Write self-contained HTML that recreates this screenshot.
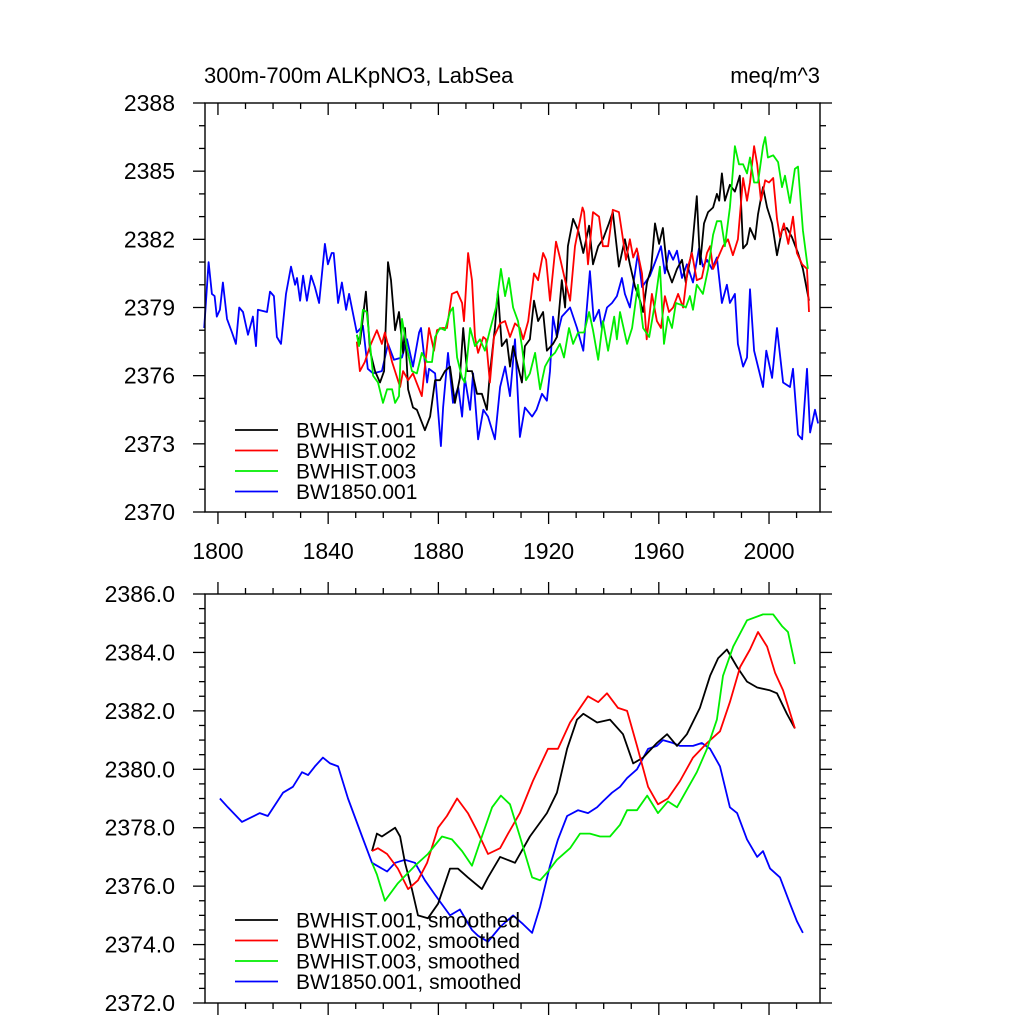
<!DOCTYPE html>
<html><head><meta charset="utf-8"><style>
html,body{margin:0;padding:0;background:#fff;}
svg{display:block;font-family:"Liberation Sans",sans-serif;}
</style></head><body>
<svg id="chart" width="1024" height="1024" viewBox="0 0 1024 1024" xmlns="http://www.w3.org/2000/svg">
<text x="204" y="83" font-size="22">300m-700m ALKpNO3, LabSea</text>
<text x="820" y="83" font-size="22" text-anchor="end">meq/m^3</text>
</svg>
<script>
// ---- top panel (annual) data ----
const blueYears=[1795,1796.6,1797.8,1798.8,1799.6,1800.7,1801.8,1803.3,1805.1,1806.5,1807.7,1809.1,1810.9,1812.7,1813.8,1814.5,1817.8,1818.9,1820.3,1821.4,1822.9,1824.7,1826.5,1828,1828.7,1829.8,1830.9,1832.3,1833.8,1835.2,1836.7,1838.8,1839.9,1841.3,1842,1843.6,1845,1846.5,1847.6,1850.4,1852.6,1854.4,1856.3,1859.5,1861.7,1863.9,1866.8,1868.6,1870.8,1873,1873.7,1875.9,1876.6,1878.8,1880.9,1881.7,1883.5,1885.3,1887.2,1888.6,1889.6,1891.5,1892.6,1894.4,1896.3,1898,1900.5,1902.4,1904.2,1906,1907.8,1909.6,1911.4,1914,1915.6,1917.6,1919.4,1920.5,1921.6,1923,1924.8,1927.8,1930.3,1932.6,1935,1936.4,1938.3,1939.3,1941.2,1943,1944.8,1946.6,1947.7,1949.5,1952.4,1953.9,1956.8,1959.3,1960.8,1962.2,1963.7,1965.2,1966.6,1968.4,1970.2,1972.4,1974.6,1976,1977.5,1979.3,1981.1,1982.9,1984.7,1985.8,1987.6,1988.7,1990.6,1992,1993.1,1994.6,1996,1997.8,1999,2001.1,2002.9,2005.1,2007.6,2008.7,2010.5,2012,2013.8,2014.9,2016.7,2017.8];
const blueVals=[2378.1,2381.0,2379.6,2379.5,2378.6,2378.9,2380.1,2378.5,2377.9,2377.4,2379.0,2378.8,2377.8,2378.6,2377.3,2378.9,2378.8,2379.7,2379.5,2377.7,2377.4,2379.6,2380.8,2380.0,2380.3,2379.3,2380.4,2379.3,2380.4,2379.9,2379.2,2381.8,2380.9,2381.4,2381.4,2379.2,2380.1,2378.9,2379.6,2377.9,2378.2,2376.3,2376.1,2376.2,2377.4,2376.7,2376.8,2377.6,2376.4,2377.9,2378.1,2375.7,2376.3,2376.1,2372.9,2374.6,2377.0,2374.8,2375.5,2374.2,2375.9,2374.5,2376.1,2373.2,2374.5,2374.2,2373.2,2375.5,2376.4,2375.1,2377.6,2373.3,2374.6,2374.2,2374.5,2375.2,2374.9,2376.2,2378.6,2377.7,2378.6,2379.0,2378.1,2377.1,2380.6,2378.4,2378.9,2378.1,2379.0,2379.2,2379.5,2380.3,2379.6,2379.0,2381.4,2379.9,2380.4,2381.2,2381.7,2380.5,2381.5,2381.1,2381.5,2380.3,2380.9,2380.1,2381.6,2380.8,2381.1,2380.7,2381.2,2379.2,2380.0,2379.2,2379.6,2377.4,2376.4,2376.8,2379.8,2377.1,2376.4,2375.5,2377.1,2375.9,2378.1,2375.7,2375.5,2376.3,2373.4,2373.2,2376.3,2373.5,2374.5,2373.9];
const blackYears=[1850.4,1851.5,1853.7,1855.2,1857,1858.8,1860.3,1861.7,1862.8,1864.3,1865.7,1867.2,1867.9,1869,1870.8,1872.2,1875.1,1877,1878.8,1880.6,1882.4,1884.2,1886,1887.8,1889,1890.4,1892.2,1894,1895.8,1897.6,1898.7,1900.5,1901.6,1903,1904.8,1906,1907.1,1908.9,1910.3,1911.4,1913.2,1914.7,1916.2,1918,1919.4,1921.6,1923,1924.8,1926,1927,1928.9,1930.7,1932.6,1934.7,1936.1,1938,1939.7,1941.9,1943.3,1945.5,1947.7,1949.5,1951.4,1953.2,1954.3,1955.7,1957.2,1958.6,1960.1,1961.5,1963,1964.8,1966.6,1968.4,1969.8,1972,1973.8,1975,1976.4,1977.9,1979.7,1981.1,1981.9,1982.9,1984,1985.8,1987.6,1989.4,1990.6,1992,1993.1,1994.9,1996,1997.8,1999.3,2001.1,2002.9,2004.7,2006.5,2008.3,2010.5,2012.3,2014.5];
const blackVals=[2377.8,2377.4,2379.7,2377.1,2376.2,2375.7,2376.2,2381.0,2380.2,2378.0,2378.8,2377.0,2378.1,2375.4,2374.6,2374.5,2373.6,2374.2,2375.8,2375.8,2376.2,2376.4,2374.8,2375.9,2378.1,2376.2,2376.2,2375.2,2375.2,2374.5,2376.1,2378.1,2379.7,2377.3,2377.6,2376.4,2377.3,2376.4,2375.7,2377.3,2377.6,2379.3,2378.4,2378.8,2377.1,2377.4,2377.7,2380.2,2379.0,2381.7,2382.9,2382.4,2381.4,2382.6,2380.9,2381.7,2382.0,2382.7,2383.2,2380.8,2382.0,2380.9,2379.9,2379.3,2378.8,2380.1,2380.7,2382.7,2381.8,2382.5,2380.7,2380.1,2380.7,2381.1,2380.1,2381.5,2383.9,2380.9,2382.7,2383.2,2383.4,2384.0,2383.7,2384.9,2383.7,2384.4,2384.1,2384.8,2381.6,2381.8,2382.5,2382.0,2383.1,2384.3,2383.4,2382.7,2381.3,2382.4,2382.5,2382.1,2381.4,2380.7,2379.3];
const redYears=[1850.4,1851.5,1853.3,1855.2,1857.7,1859.5,1860.6,1863.2,1866.1,1867.2,1869,1870.8,1872.4,1874,1875.1,1876.6,1878.4,1879.5,1881.3,1883.1,1884.9,1886.8,1888.6,1889.3,1890.8,1892.2,1893.3,1894.4,1896.3,1897.3,1898.7,1900.2,1902.4,1904.2,1906,1907.8,1909.6,1910.8,1912.6,1914.7,1916.2,1918,1919.1,1920.5,1922.7,1924.1,1926,1927.8,1929.6,1930.7,1932.3,1932.9,1934.3,1936.1,1938.3,1939.7,1941.6,1943.3,1945.5,1947,1948.1,1949.5,1950.7,1952,1953.9,1955.6,1957.5,1959.3,1960.8,1962.2,1963.7,1965.2,1967,1968.8,1970.6,1972,1973.8,1975.6,1977.5,1978.6,1979.7,1981.5,1983.3,1985.1,1986.9,1988.7,1990.6,1992,1993.1,1994.6,1995.7,1997.1,1998.6,2000,2001.5,2002.9,2004,2005.4,2007,2008.7,2010.1,2012,2013.8,2014.5];
const redVals=[2377.5,2376.2,2376.6,2377.3,2378.0,2377.4,2377.9,2376.6,2375.5,2376.2,2375.8,2376.1,2375.6,2375.1,2376.4,2378.1,2377.1,2378.0,2378.1,2378.1,2379.6,2379.7,2379.2,2378.4,2381.4,2380.2,2377.7,2377.0,2377.7,2377.6,2375.7,2377.7,2378.3,2378.4,2377.7,2378.3,2378.1,2377.6,2378.4,2380.5,2380.2,2381.4,2381.1,2379.3,2381.9,2381.2,2380.2,2379.3,2381.7,2382.4,2383.4,2383.2,2380.9,2383.2,2383.0,2381.7,2381.7,2383.3,2383.2,2382.0,2381.1,2382.0,2381.2,2381.6,2380.5,2377.6,2379.6,2378.4,2378.1,2379.5,2378.8,2379.0,2379.6,2379.0,2380.8,2381.4,2380.2,2380.3,2381.4,2381.7,2380.7,2381.2,2381.7,2382.0,2381.3,2382.0,2384.7,2383.7,2384.5,2386.1,2385.3,2383.7,2384.6,2384.5,2384.7,2382.9,2382.1,2382.7,2381.8,2383.0,2381.4,2380.9,2380.7,2378.8];
const greenYears=[1850.4,1851.2,1852.6,1854,1855.2,1856.3,1858.1,1859.9,1861.4,1863.2,1864.3,1865.7,1866.8,1868.6,1870.4,1872.2,1874,1875.9,1877.7,1878.8,1880.6,1882.4,1884.2,1885.3,1886.8,1888.6,1889.6,1891.5,1893.3,1895.1,1896.9,1898.7,1900.9,1902.7,1904.2,1905.6,1907.1,1908.9,1910.3,1911.8,1913.2,1915.1,1916.9,1918.7,1920.5,1922.3,1924.1,1925.6,1927.4,1928.9,1930.7,1932.9,1934.7,1936.1,1938,1939.7,1941.6,1943.8,1944.8,1945.9,1948.5,1950.3,1952.4,1954.3,1956.5,1958.6,1960.4,1961.9,1963.3,1964.8,1966.2,1968.4,1969.8,1971.3,1972.4,1973.8,1976,1977.9,1979.7,1981.1,1982.6,1984,1985.8,1987.6,1989.1,1990.6,1992,1993.1,1994.6,1996,1997.8,1998.6,1999.6,2001.5,2003.3,2004.7,2005.8,2007.6,2009.4,2010.5,2012.3,2014.1];
const greenVals=[2377.8,2377.3,2378.9,2378.8,2377.4,2376.0,2375.7,2374.8,2375.4,2375.4,2374.8,2375.1,2378.5,2377.2,2376.2,2376.1,2377.0,2376.6,2376.6,2377.7,2378.1,2378.0,2378.8,2379.0,2376.8,2375.9,2375.7,2378.1,2377.3,2377.6,2377.1,2378.0,2379.0,2380.7,2379.5,2380.3,2379.0,2378.4,2377.3,2375.8,2376.1,2377.0,2375.4,2376.4,2376.8,2377.0,2377.4,2376.8,2378.1,2377.4,2377.9,2377.9,2378.8,2378.0,2376.7,2378.4,2377.1,2378.6,2377.6,2378.8,2377.4,2378.1,2380.0,2378.1,2377.7,2379.2,2380.8,2377.4,2378.6,2378.1,2379.2,2379.1,2379.0,2379.5,2378.9,2380.0,2379.6,2380.7,2382.2,2382.8,2382.8,2381.7,2383.4,2386.1,2385.3,2385.3,2384.9,2385.6,2384.5,2384.5,2386.1,2386.5,2385.6,2385.7,2385.4,2384.3,2384.8,2383.6,2385.1,2385.2,2382.4,2380.7];
// ---- bottom panel (smoothed) data ----
const sBlueYears=[1800.7,1803.6,1808.7,1810.9,1815.2,1818.1,1823.6,1827.2,1830.5,1832.7,1835.2,1838.1,1840.7,1843.6,1847.2,1852.3,1855.9,1861.4,1864.3,1867.9,1871.5,1875.1,1878.8,1884.2,1887.8,1892.2,1894.4,1898,1902.4,1907.1,1910.7,1914,1916.9,1920.5,1923.4,1926.7,1930.7,1934.3,1937.6,1939.7,1943,1945.9,1948.5,1952.1,1956.1,1959.3,1961.5,1965.2,1967.7,1972.4,1975.6,1978.6,1982.2,1985.8,1988.4,1992,1995.7,1997.8,2000.4,2004,2007.6,2010.1,2012.3];
const sBlueVals=[2379.0,2378.7,2378.2,2378.3,2378.5,2378.4,2379.2,2379.4,2379.9,2379.8,2380.1,2380.4,2380.2,2380.1,2379.0,2377.7,2376.8,2376.5,2376.8,2376.9,2376.8,2376.2,2375.7,2375.0,2375.2,2374.5,2374.3,2374.1,2374.6,2375.0,2374.7,2374.4,2375.3,2376.7,2377.6,2378.4,2378.6,2378.5,2378.7,2378.9,2379.2,2379.4,2379.7,2380.0,2380.7,2380.8,2381.0,2380.9,2380.8,2380.8,2380.9,2380.7,2380.1,2378.7,2378.5,2377.6,2377.0,2377.2,2376.6,2376.3,2375.4,2374.8,2374.4];
const sBlackYears=[1855.9,1857.7,1859.5,1864.3,1866.1,1867.9,1870.4,1872.6,1876.2,1879.9,1884.2,1887.1,1890.7,1895.8,1898,1902.4,1907.8,1913.2,1919.4,1923,1926.7,1930.3,1932.6,1937.6,1942.3,1947,1950.7,1954.3,1959.3,1963,1966.6,1970.2,1974.9,1978.6,1981.5,1984.7,1988.4,1992,1995.7,2000.4,2002.9,2006.5,2009.4];
const sBlackVals=[2377.2,2377.8,2377.7,2378.0,2377.7,2376.8,2375.9,2375.0,2374.9,2375.4,2376.6,2376.6,2376.3,2375.9,2376.3,2377.0,2376.8,2377.7,2378.5,2379.2,2380.7,2381.7,2381.9,2381.6,2381.7,2381.2,2380.2,2380.4,2380.9,2381.2,2380.8,2381.2,2382.1,2383.2,2383.8,2384.1,2383.5,2383.0,2382.8,2382.7,2382.6,2381.9,2381.4];
const sRedYears=[1855.9,1858.1,1861.4,1865.3,1869,1872.6,1875.9,1879.9,1883.1,1886.8,1890.7,1894,1898,1902.4,1905.3,1909.6,1914.3,1919.8,1923.4,1927.8,1934.3,1938,1941.2,1945.2,1948.5,1952.1,1956.1,1959.7,1963.3,1967.7,1972.4,1977.5,1982.2,1985.8,1989.5,1993.1,1996,1999.3,2002.2,2005.1,2009.4];
const sRedVals=[2377.2,2377.3,2377.1,2376.6,2375.9,2376.2,2376.8,2378.0,2378.4,2379.0,2378.5,2377.9,2377.1,2377.3,2377.8,2378.5,2379.6,2380.7,2380.7,2381.6,2382.5,2382.3,2382.6,2382.1,2382.0,2380.8,2379.4,2378.8,2379.0,2379.6,2380.4,2380.9,2381.3,2382.3,2383.5,2384.1,2384.7,2384.2,2383.3,2382.7,2381.4];
const sGreenYears=[1855.9,1857.7,1860.6,1865.3,1871.5,1876.2,1881.3,1884.9,1888.6,1892.2,1895.8,1899.5,1902.7,1906,1909.6,1914,1916.9,1919.8,1923,1927.8,1931.4,1935,1938.7,1942.3,1945.9,1948.5,1952.1,1955.8,1959.7,1963.3,1966.6,1970.2,1973.8,1977.5,1981.1,1983.3,1987,1992,1997.8,2001.5,2004.7,2006.9,2009.4];
const sGreenVals=[2376.8,2376.4,2375.5,2376.1,2376.7,2377.1,2377.7,2377.6,2377.2,2376.7,2377.7,2378.7,2379.1,2378.8,2377.7,2376.3,2376.2,2376.5,2376.9,2377.3,2377.8,2377.8,2377.7,2377.7,2378.1,2378.6,2378.6,2379.1,2378.5,2378.9,2378.7,2379.3,2379.9,2380.7,2381.7,2383.2,2384.2,2385.1,2385.3,2385.3,2384.9,2384.7,2383.6];
// ---- axis definitions ----
const xTicks=[1800,1840,1880,1920,1960,2000];
const topYTicks=[2370,2373,2376,2379,2382,2385,2388];
const topYLabels=["2370","2373","2376","2379","2382","2385","2388"];
const botYTicks=[2372,2374,2376,2378,2380,2382,2384,2386];
const botYLabels=["2372.0","2374.0","2376.0","2378.0","2380.0","2382.0","2384.0","2386.0"];
const topNames=["BWHIST.001","BWHIST.002","BWHIST.003","BW1850.001"];
const botNames=["BWHIST.001, smoothed","BWHIST.002, smoothed","BWHIST.003, smoothed","BW1850.001, smoothed"];

const NS="http://www.w3.org/2000/svg";
const svg=document.getElementById('chart');
const L=205,R=820,X0=1795.3,X1=2018.5;
function xs(yr){return L+(yr-X0)/(X1-X0)*(R-L);}
function mk(tag,attrs,parent){const e=document.createElementNS(NS,tag);for(const k in attrs)e.setAttribute(k,attrs[k]);(parent||svg).appendChild(e);return e;}
function panel(name,T,B,ymin,ymax,yt,yl,minorStep,series,names,legY,topInward,showXLabels){
  const ys=v=>B-(v-ymin)/(ymax-ymin)*(B-T);
  const g=mk('g',{});
  
  
  const tk=mk('g',{stroke:'#000','stroke-width':1.3},g);
  
  
  for(let yr=1800;yr<=2010;yr+=10){
    const major=(yr%40===0);const len=major?12:6;const x=xs(yr);
    mk('line',{x1:x,x2:x,y1:B,y2:B+len},tk);
    if(topInward) mk('line',{x1:x,x2:x,y1:T,y2:T+len},tk); else mk('line',{x1:x,x2:x,y1:T,y2:T-len},tk);
  }
  for(let v=ymin;v<=ymax+1e-9;v+=minorStep){
    const major=yt.some(t=>Math.abs(t-v)<1e-6);const len=major?12:6;const y=ys(v);
    mk('line',{x1:L,x2:L-len,y1:y,y2:y},tk);
    mk('line',{x1:R,x2:R+len,y1:y,y2:y},tk);
  }
  yt.forEach((t,i)=>{const tx=mk('text',{x:175,y:ys(t)+8,'font-size':23,'text-anchor':'end'},g);tx.textContent=yl[i];
    
    });
  if(showXLabels) xTicks.forEach(t=>{const tx=mk('text',{x:xs(t),y:B+47,'font-size':23,'text-anchor':'middle'},g);tx.textContent=String(t);
    
    });
  const colors=['#000','#ff0000','#00ee00','#0000ff'];
  [3,0,1,2].forEach(i=>{const s=series[i];const d=s[0].map((yr,j)=>(j?'L':'M')+xs(yr).toFixed(1)+' '+ys(s[1][j]).toFixed(1)).join(' ');
    const p=mk('path',{d:d,fill:'none',stroke:colors[i],'stroke-width':1.8,'stroke-linejoin':'round'},g);
    
    });
  mk('rect',{x:L,y:T,width:R-L,height:B-T,fill:'none',stroke:'#000','stroke-width':1.4},g);
  names.forEach((n,i)=>{const y=legY+i*20.5;
    const ln=mk('line',{x1:235,x2:278,y1:y,y2:y,stroke:colors[i],'stroke-width':1.8},g);
    
    
    const tx=mk('text',{x:296,y:y+7.5,'font-size':21},g);tx.textContent=n;
    
    });
}
panel('top-panel',103,512,2370,2388,topYTicks,topYLabels,1,
  [[blackYears,blackVals],[redYears,redVals],[greenYears,greenVals],[blueYears,blueVals]],topNames,430,true,true);
panel('bottom-panel',594,1003,2372,2386,botYTicks,botYLabels,0.5,
  [[sBlackYears,sBlackVals],[sRedYears,sRedVals],[sGreenYears,sGreenVals],[sBlueYears,sBlueVals]],botNames,920,false,false);
</script>
</body></html>
